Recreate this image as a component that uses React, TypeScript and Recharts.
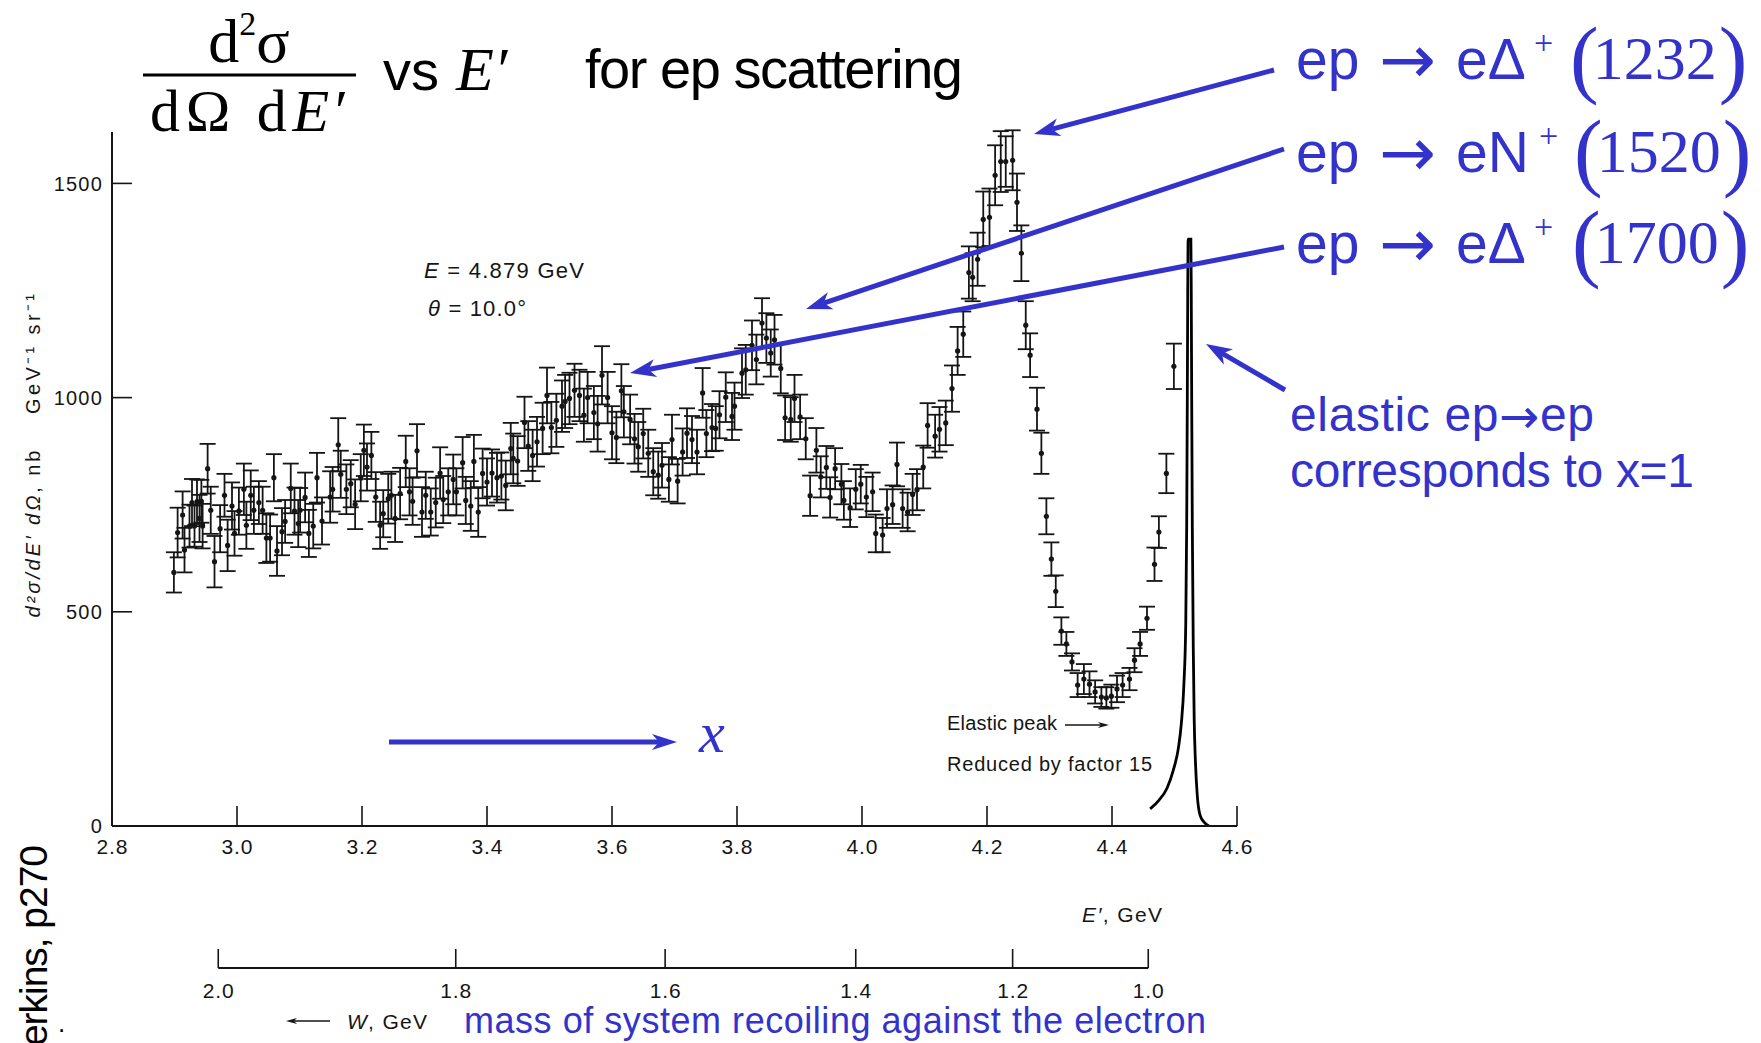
import { ComposedChart, Scatter, Line, XAxis, YAxis, ErrorBar } from "recharts";

const W = 1761;
const H = 1043;
const BLUE = "#3333cc";
const INK = "#151515";
const SANS = "'Liberation Sans', Arial, Helvetica, sans-serif";
const SERIF = "'Liberation Serif', 'Times New Roman', serif";
const ARROWFONT = "'DejaVu Sans', sans-serif";

// [E' (GeV), d2sigma/dE'dOmega (nb GeV^-1 sr^-1), error]
const continuum: [number, number, number][] = [
  [2.899, 592, 47], [2.905, 685, 58], [2.913, 726, 55], [2.916, 644, 52], [2.924, 700, 50],
  [2.928, 755, 55], [2.932, 700, 48], [2.936, 757, 52], [2.94, 718, 55], [2.943, 758, 50],
  [2.945, 700, 52], [2.953, 834, 58], [2.958, 737, 55], [2.964, 617, 60], [2.973, 694, 55],
  [2.98, 772, 50], [2.985, 655, 60], [2.992, 747, 55], [2.996, 683, 52], [3.003, 735, 55],
  [3.011, 786, 60], [3.015, 702, 55], [3.022, 772, 58], [3.027, 737, 55], [3.035, 755, 50],
  [3.041, 737, 55], [3.047, 672, 58], [3.053, 672, 55], [3.059, 813, 55], [3.064, 642, 58],
  [3.072, 687, 55], [3.077, 711, 50], [3.086, 788, 58], [3.092, 735, 55], [3.098, 706, 55],
  [3.101, 737, 52], [3.109, 767, 58], [3.115, 683, 55], [3.122, 700, 52], [3.128, 813, 58],
  [3.136, 712, 55], [3.149, 768, 60], [3.153, 786, 52], [3.162, 890, 62], [3.166, 821, 55],
  [3.175, 786, 58], [3.182, 799, 55], [3.189, 751, 58], [3.198, 813, 55], [3.203, 877, 60],
  [3.208, 838, 55], [3.215, 865, 55], [3.222, 768, 58], [3.229, 702, 55], [3.234, 729, 55],
  [3.242, 764, 58], [3.247, 772, 55], [3.253, 718, 55], [3.261, 776, 60], [3.27, 851, 60],
  [3.276, 780, 55], [3.281, 758, 55], [3.288, 876, 62], [3.296, 733, 58], [3.302, 772, 55],
  [3.31, 733, 55], [3.318, 755, 58], [3.325, 824, 60], [3.33, 762, 55], [3.338, 780, 55],
  [3.346, 809, 58], [3.351, 780, 55], [3.361, 848, 60], [3.366, 760, 55], [3.374, 747, 58],
  [3.379, 851, 62], [3.386, 733, 58], [3.393, 823, 58], [3.4, 803, 55], [3.408, 824, 55],
  [3.416, 813, 58], [3.423, 817, 55], [3.43, 795, 58], [3.438, 881, 60], [3.442, 858, 58],
  [3.449, 852, 58], [3.46, 942, 60], [3.466, 887, 58], [3.473, 865, 60], [3.48, 897, 58],
  [3.489, 928, 60], [3.496, 1005, 65], [3.503, 930, 60], [3.511, 947, 62], [3.52, 980, 60],
  [3.525, 991, 62], [3.532, 998, 60], [3.54, 1017, 62], [3.548, 1005, 60], [3.555, 959, 62],
  [3.561, 1000, 60], [3.571, 965, 62], [3.577, 939, 65], [3.584, 1052, 68], [3.593, 1000, 60],
  [3.6, 918, 62], [3.607, 907, 60], [3.615, 1016, 62], [3.619, 967, 60], [3.629, 949, 58],
  [3.636, 904, 58], [3.642, 885, 58], [3.65, 916, 58], [3.658, 870, 55],
];

const secondRegion: [number, number, number][] = [
  [3.666, 827, 55], [3.674, 819, 55], [3.68, 842, 52], [3.691, 809, 52], [3.696, 902, 58],
  [3.705, 805, 52], [3.713, 873, 55], [3.72, 917, 58], [3.728, 902, 55], [3.736, 873, 52],
  [3.745, 1011, 58], [3.751, 916, 55], [3.76, 930, 55], [3.766, 928, 52], [3.772, 960, 55],
  [3.782, 1001, 58], [3.792, 956, 55], [3.796, 980, 55], [3.808, 1057, 58], [3.814, 1065, 58],
  [3.824, 1122, 58], [3.831, 1089, 58], [3.84, 1174, 58], [3.847, 1139, 58], [3.854, 1104, 55],
  [3.86, 1135, 58], [3.87, 1068, 58], [3.877, 953, 52], [3.886, 949, 52], [3.892, 998, 55],
  [3.901, 955, 52], [3.91, 904, 48], [3.917, 771, 47], [3.927, 877, 52], [3.934, 815, 48],
  [3.943, 837, 50], [3.949, 767, 47], [3.957, 834, 48], [3.967, 798, 47], [3.971, 760, 45],
  [3.981, 743, 45], [3.99, 786, 47], [3.998, 798, 45], [4.007, 768, 47], [4.017, 780, 45],
  [4.022, 683, 44], [4.033, 679, 40], [4.04, 741, 45], [4.049, 750, 45], [4.056, 844, 51],
  [4.065, 741, 45], [4.073, 733, 45], [4.081, 774, 48], [4.088, 785, 48], [4.098, 838, 50],
  [4.105, 935, 52], [4.117, 910, 50], [4.124, 926, 52], [4.134, 941, 52], [4.144, 1021, 54],
  [4.153, 1109, 56], [4.162, 1148, 53],
];

const deltaRegion: [number, number, number][] = [
  [4.171, 1292, 61], [4.177, 1281, 56], [4.185, 1323, 62], [4.194, 1416, 65], [4.204, 1421, 67],
  [4.213, 1519, 70], [4.222, 1551, 71], [4.23, 1551, 59], [4.241, 1554, 70], [4.248, 1456, 67],
  [4.255, 1337, 65], [4.262, 1169, 56], [4.269, 1099, 51], [4.28, 973, 50], [4.287, 870, 48],
  [4.295, 723, 42], [4.303, 623, 39], [4.31, 548, 37], [4.319, 455, 32], [4.327, 425, 28],
  [4.336, 383, 20], [4.345, 329, 28], [4.355, 343, 35], [4.364, 331, 30], [4.373, 313, 27],
  [4.383, 301, 23], [4.391, 299, 25], [4.399, 303, 27], [4.408, 320, 31], [4.417, 329, 28],
  [4.428, 343, 26], [4.436, 387, 28], [4.445, 425, 28], [4.456, 485, 27], [4.468, 611, 39],
  [4.475, 686, 37], [4.487, 823, 46], [4.499, 1073, 53],
];

// elastic peak, reduced by factor 15
const elasticPeak: [number, number][] = [
  [4.461, 40], [4.475, 60], [4.488, 88], [4.498, 130], [4.506, 180], [4.511, 240],
  [4.515, 330], [4.518, 470], [4.5195, 700], [4.5205, 1000], [4.5212, 1250], [4.5218, 1370],
  [4.5262, 1370], [4.5268, 1250], [4.5275, 1000], [4.5285, 700], [4.53, 420], [4.5315, 250],
  [4.5335, 150], [4.5365, 70], [4.541, 25], [4.548, 8], [4.555, 0],
];

const eTicks = [2.8, 3.0, 3.2, 3.4, 3.6, 3.8, 4.0, 4.2, 4.4, 4.6];
const yTicks = [0, 500, 1000, 1500];
// E' positions of the W scale marks
const wTickE = [2.97, 3.35, 3.685, 3.99, 4.241, 4.458];
const wTickLabels = ["2.0", "1.8", "1.6", "1.4", "1.2", "1.0"];

const reactions = [
  { particle: "Δ", mass: "1232" },
  { particle: "N", mass: "1520" },
  { particle: "Δ", mass: "1700" },
];

const points = [...continuum, ...secondRegion, ...deltaRegion].map(([e, v, err]) => ({ e, v, err }));
const peak = elasticPeak.map(([e, v]) => ({ e, v }));
const wBase = [wTickE[0], wTickE[wTickE.length - 1]].map((e) => ({ e, v: 0 }));

const margin = { top: 132, right: 524, left: 52 };

function ETick({ x, y, payload }: any) {
  return (
    <g>
      <line x1={x} y1={y} x2={x} y2={y - 20} stroke={INK} strokeWidth={1.6} />
      <text x={x} y={y + 28} textAnchor="middle" fontSize={21} fontFamily={SANS} fill={INK} textLength={31}>
        {payload.value.toFixed(1)}
      </text>
    </g>
  );
}

function VTick({ x, y, payload }: any) {
  return (
    <g>
      {payload.value > 0 && <line x1={x} y1={y} x2={x + 20} y2={y} stroke={INK} strokeWidth={1.6} />}
      <text x={x - 9} y={y} dy="0.36em" textAnchor="end" fontSize={20} letterSpacing={1.2} fontFamily={SANS} fill={INK}>
        {payload.value}
      </text>
    </g>
  );
}

function WTick({ x, y, payload }: any) {
  const label = wTickLabels[wTickE.indexOf(payload.value)];
  return (
    <g>
      <line x1={x} y1={y} x2={x} y2={y - 19} stroke={INK} strokeWidth={1.6} />
      <text x={x} y={y + 30} textAnchor="middle" fontSize={21} fontFamily={SANS} fill={INK} textLength={31}>
        {label}
      </text>
    </g>
  );
}

function Dot({ cx, cy }: any) {
  return <circle cx={cx} cy={cy} r={2.6} fill={INK} />;
}

function Arrow({ from, to, color, w = 5, len = 26, half = 9 }: any) {
  const [x1, y1] = from;
  const [x2, y2] = to;
  const d = Math.hypot(x2 - x1, y2 - y1);
  const ux = (x2 - x1) / d;
  const uy = (y2 - y1) / d;
  const bx = x2 - ux * len;
  const by = y2 - uy * len;
  const nx = x2 - ux * len * 0.72;
  const ny = y2 - uy * len * 0.72;
  return (
    <g>
      <line x1={x1} y1={y1} x2={nx} y2={ny} stroke={color} strokeWidth={w} />
      <polygon
        points={`${x2},${y2} ${bx - uy * half},${by + ux * half} ${nx},${ny} ${bx + uy * half},${by - ux * half}`}
        fill={color}
      />
    </g>
  );
}

const reactionLayout = [
  { y: 79, plus: 1534, open: 1570 },
  { y: 172, plus: 1539, open: 1574 },
  { y: 263, plus: 1534, open: 1572 },
];

function Annotations() {
  return (
    <svg width={W} height={H} style={{ position: "absolute", left: 0, top: 0 }}>
      {/* title */}
      <text x={249} y={62} textAnchor="middle" fontFamily={SERIF} fontSize={62} fill="#000">
        d<tspan fontSize={34} dy={-27}>2</tspan>
        <tspan dy={27}>σ</tspan>
      </text>
      <line x1={143} y1={75} x2={356} y2={75} stroke="#000" strokeWidth={3} />
      <text x={249} y={131} textAnchor="middle" fontFamily={SERIF} fontSize={60} fill="#000" textLength={198}>
        dΩ d<tspan fontStyle="italic">E</tspan>′
      </text>
      <text x={383} y={90} fontFamily={SANS} fontSize={56} fill="#000">vs</text>
      <text x={456} y={90} fontFamily={SERIF} fontSize={62} fontStyle="italic" fill="#000">E′</text>
      <text x={585} y={88} fontFamily={SANS} fontSize={56} fill="#000" textLength={378}>for ep scattering</text>

      {/* reaction labels */}
      {reactions.map((r, i) => {
        const L = reactionLayout[i];
        return (
          <text key={r.mass} y={L.y} fill={BLUE} fontFamily={SANS} fontSize={57}>
            <tspan x={1296}>ep</tspan>
            <tspan x={1379} fontFamily={ARROWFONT} fontSize={68} dy={4}>→</tspan>
            <tspan x={1456} dy={-4}>e{r.particle}</tspan>
            <tspan x={L.plus} fontFamily={SERIF} fontSize={34} dy={-25}>+</tspan>
            <tspan x={L.open} fontFamily={SERIF} fontSize={86} dy={33}>(</tspan>
            <tspan fontFamily={SERIF} fontSize={62} dx={-6} dy={-8}>{r.mass}</tspan>
            <tspan fontFamily={SERIF} fontSize={86} dx={2} dy={8}>)</tspan>
          </text>
        );
      })}
      <text x={1290} y={431} fontFamily={SANS} fontSize={48} fill={BLUE} textLength={304}>
        elastic ep<tspan fontFamily={ARROWFONT} dy={2}>→</tspan>
        <tspan dy={-2}>ep</tspan>
      </text>
      <text x={1290} y={487} fontFamily={SANS} fontSize={48} fill={BLUE} textLength={404}>corresponds to x=1</text>

      <Arrow from={[1274, 70]} to={[1034, 134]} color={BLUE} />
      <Arrow from={[1284, 149]} to={[806, 309]} color={BLUE} />
      <Arrow from={[1284, 247]} to={[630, 373]} color={BLUE} />
      <Arrow from={[1285, 390]} to={[1206, 344]} color={BLUE} />
      <Arrow from={[389, 742]} to={[677, 742]} color={BLUE} len={25} half={8} />
      <text x={699} y={752} fontFamily={SERIF} fontSize={58} fontStyle="italic" fill={BLUE}>x</text>

      {/* black annotations from the figure */}
      <text x={424} y={278} fontFamily={SANS} fontSize={22} fill={INK} textLength={160}>
        <tspan fontStyle="italic">E</tspan> = 4.879 GeV
      </text>
      <text x={428} y={316} fontFamily={SANS} fontSize={22} fill={INK} textLength={98}>
        <tspan fontStyle="italic">θ</tspan> = 10.0°
      </text>
      <text x={947} y={730} fontFamily={SANS} fontSize={20} fill={INK} textLength={110}>Elastic peak</text>
      <Arrow from={[1065, 725]} to={[1109, 725]} color={INK} w={1.5} len={11} half={3} />
      <text x={947} y={771} fontFamily={SANS} fontSize={20} fill={INK} textLength={205}>Reduced by factor 15</text>

      <g transform="rotate(-90 40 534)">
        <text x={40} y={534} textAnchor="middle" fontFamily={SANS} fontSize={20} fill={INK} textLength={167}>
          <tspan fontStyle="italic">d²σ/dE′ dΩ</tspan>, nb
        </text>
      </g>
      <g transform="rotate(-90 40 354)">
        <text x={40} y={354} textAnchor="middle" fontFamily={SANS} fontSize={20} fill={INK} textLength={120}>
          GeV⁻¹ sr⁻¹
        </text>
      </g>

      <text x={1082} y={922} fontFamily={SANS} fontSize={21} fill={INK} textLength={80}>
        <tspan fontStyle="italic">E′</tspan>, GeV
      </text>
      <Arrow from={[330, 1021]} to={[286, 1021]} color={INK} w={1.5} len={11} half={3} />
      <text x={347} y={1029} fontFamily={SANS} fontSize={21} fill={INK} textLength={80}>
        <tspan fontStyle="italic">W</tspan>, GeV
      </text>
      <text x={464} y={1033} fontFamily={SANS} fontSize={36} fill={BLUE} textLength={742}>
        mass of system recoiling against the electron
      </text>

      <g transform="rotate(-90 47 845)">
        <text x={47} y={845} textAnchor="end" fontFamily={SANS} fontSize={39} fill="#000" textLength={226}>
          Perkins, p270
        </text>
      </g>
      <text x={58} y={1032} fontFamily={SANS} fontSize={26} fill="#000">.</text>
    </svg>
  );
}

export default function App() {
  return (
    <div style={{ position: "absolute", left: 0, top: 0, width: W, height: H, overflow: "hidden", background: "#fff" }}>
      <div style={{ position: "absolute", left: 0, top: 0 }}>
        <ComposedChart width={W} height={H} margin={{ ...margin, bottom: 187 }}>
          <XAxis
            type="number"
            dataKey="e"
            domain={[2.8, 4.6]}
            ticks={eTicks}
            allowDataOverflow
            height={30}
            tickSize={0}
            tickMargin={0}
            tickLine={false}
            tick={<ETick />}
            axisLine={{ stroke: INK, strokeWidth: 2 }}
          />
          <YAxis
            type="number"
            domain={[0, 1620]}
            ticks={yTicks}
            allowDataOverflow
            width={60}
            tickSize={0}
            tickMargin={0}
            tickLine={false}
            tick={<VTick />}
            axisLine={{ stroke: INK, strokeWidth: 2 }}
          />
          <Scatter data={points} dataKey="v" shape={<Dot />} isAnimationActive={false}>
            <ErrorBar dataKey="err" direction="y" width={8} stroke={INK} strokeWidth={1.8} isAnimationActive={false} />
          </Scatter>
          <Line
            data={peak}
            dataKey="v"
            type="monotone"
            stroke="#000"
            strokeWidth={2.8}
            dot={false}
            isAnimationActive={false}
          />
        </ComposedChart>
      </div>
      <div style={{ position: "absolute", left: 0, top: 0 }}>
        <ComposedChart width={W} height={H} margin={{ ...margin, bottom: 45 }}>
          <XAxis
            type="number"
            dataKey="e"
            domain={[2.8, 4.6]}
            ticks={wTickE}
            allowDataOverflow
            height={30}
            tickSize={0}
            tickMargin={0}
            tickLine={false}
            axisLine={false}
            tick={<WTick />}
          />
          <YAxis type="number" domain={[0, 1]} width={60} tick={false} axisLine={false} tickLine={false} />
          <Line data={wBase} dataKey="v" stroke={INK} strokeWidth={2} dot={false} isAnimationActive={false} />
        </ComposedChart>
      </div>
      <Annotations />
    </div>
  );
}
